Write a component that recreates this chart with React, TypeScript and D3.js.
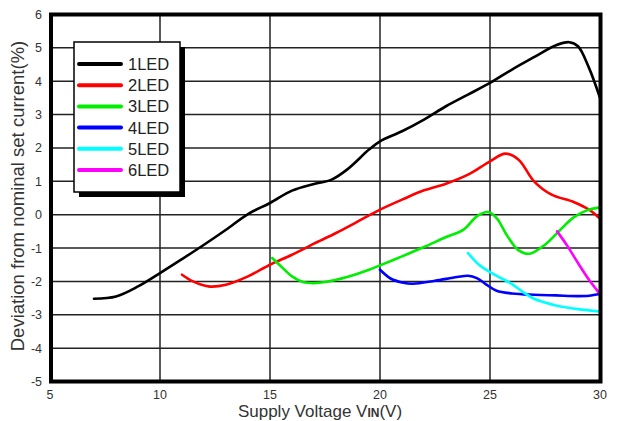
import * as d3 from 'd3';

// Supply voltage (V) vs deviation from nominal set current (%)
const led1: [number, number][] = [
  [7, -2.52], [8, -2.45], [9, -2.15], [10, -1.75], [11, -1.33], [12, -0.9], [13, -0.45],
  [14, 0.02], [15, 0.35], [16, 0.72], [17, 0.92], [17.8, 1.05], [18.5, 1.35], [19.5, 1.95],
  [20, 2.2], [21, 2.5], [22, 2.85], [23, 3.25], [24, 3.6], [25, 3.95], [26, 4.35],
  [27, 4.72], [28, 5.08], [28.6, 5.17], [29, 5.05], [29.5, 4.4], [30, 3.5],
];
const led2: [number, number][] = [
  [11, -1.8], [11.5, -2.0], [12.2, -2.15], [13, -2.1], [14, -1.85], [15, -1.5], [16, -1.2],
  [17, -0.87], [18, -0.55], [19, -0.2], [20, 0.15], [21, 0.45], [22, 0.73], [23, 0.93],
  [24, 1.2], [25, 1.6], [25.7, 1.83], [26.3, 1.65], [27, 1.0], [27.8, 0.6], [28.8, 0.38],
  [29.5, 0.15], [30, -0.12],
];
const led3: [number, number][] = [
  [15.1, -1.3], [15.5, -1.55], [16, -1.85], [16.5, -2.02], [17, -2.05], [17.5, -2.02],
  [18.5, -1.87], [19.5, -1.65], [20, -1.52], [21, -1.25], [22, -0.97], [23, -0.67],
  [23.8, -0.45], [24.4, -0.05], [24.9, 0.08], [25.3, -0.1], [25.8, -0.65], [26.3, -1.07],
  [26.8, -1.17], [27.5, -0.9], [28.2, -0.45], [28.8, -0.08], [29.4, 0.13], [30, 0.22],
];
const led4: [number, number][] = [
  [20, -1.65], [20.5, -1.92], [21, -2.03], [21.5, -2.07], [22.5, -1.98], [23.5, -1.87],
  [24, -1.83], [24.4, -1.9], [24.8, -2.08], [25.3, -2.28], [26, -2.36], [27, -2.4],
  [28, -2.42], [29, -2.44], [29.5, -2.43], [30, -2.38],
];
const led5: [number, number][] = [
  [24, -1.15], [24.5, -1.5], [25, -1.72], [25.5, -1.9], [26, -2.08], [26.5, -2.32],
  [27, -2.52], [27.5, -2.63], [28, -2.72], [29, -2.83], [30, -2.9],
];
const led6: [number, number][] = [
  [28.05, -0.5], [28.5, -0.92], [29, -1.45], [29.5, -1.95], [30, -2.38],
];

const seriesNames = ['1LED', '2LED', '3LED', '4LED', '5LED', '6LED'];
const seriesData = [led1, led2, led3, led4, led5, led6];
const seriesColors = ['#000000', '#ff0000', '#00ee00', '#0000ff', '#00ffff', '#ff00ff'];

const xTicks = [5, 10, 15, 20, 25, 30];
const yTicks = [-5, -4, -3, -2, -1, 0, 1, 2, 3, 4, 5, 6];

const W = 624;
const H = 421;

export default function App() {
  const x = d3.scaleLinear().domain([5, 30]).range([50, 600]);
  const y = d3.scaleLinear().domain([-5, 6]).range([381.5, 14.5]);

  const line = d3.line<[number, number]>()
    .x(d => x(d[0]))
    .y(d => y(d[1]))
    .curve(d3.curveCatmullRom.alpha(0.5));

  const font = 'Arial, "Liberation Sans", sans-serif';

  return (
    <svg
      width={W}
      height={H}
      style={{ position: 'absolute', left: 0, top: 0, background: '#fff' }}
      fontFamily={font}
    >
      {/* grid */}
      {xTicks.map(t => (
        <line key={'gx' + t} x1={x(t)} x2={x(t)} y1={y(6)} y2={y(-5)} stroke="#222" strokeWidth={1.5} />
      ))}
      {yTicks.map(t => (
        <line key={'gy' + t} x1={x(5)} x2={x(30)} y1={y(t)} y2={y(t)} stroke="#222" strokeWidth={1.5} />
      ))}

      {/* curves */}
      {seriesData.map((d, i) => (
        <path key={seriesNames[i]} d={line(d) ?? ''} fill="none" stroke={seriesColors[i]}
          strokeWidth={2.6} strokeLinejoin="round" strokeLinecap="round" />
      ))}

      {/* frame */}
      <rect x={x(5) + 1} y={y(6)} width={x(30) - x(5) - 0.5} height={y(-5) - y(6)}
        fill="none" stroke="#000" strokeWidth={4} />

      {/* tick labels */}
      {yTicks.map(t => (
        <text key={'ty' + t} x={42} y={y(t)} dy="0.36em" textAnchor="end" fontSize={12.5} fill="#333">
          {t}
        </text>
      ))}
      {xTicks.map(t => (
        <text key={'tx' + t} x={x(t)} y={399} textAnchor="middle" fontSize={12.5} fill="#333">
          {t}
        </text>
      ))}

      {/* axis titles */}
      <text x={320} y={417} textAnchor="middle" fontSize={17} fill="#333">
        Supply Voltage V<tspan fontSize={12} fontWeight="bold">IN</tspan>(V)
      </text>
      <text transform="translate(24,196) rotate(-90)" textAnchor="middle"
        fontSize={18.5} fill="#333">
        Deviation from nominal set current(%)
      </text>

      {/* legend */}
      <rect x={79} y={47} width={106} height={150} fill="#000" />
      <rect x={74} y={42} width={106} height={150} fill="#fff" stroke="#000" strokeWidth={1.5} />
      {seriesNames.map((n, i) => {
        const ly = 64 + i * 21.2;
        return (
          <g key={'lg' + n}>
            <line x1={79} x2={121} y1={ly} y2={ly} stroke={seriesColors[i]} strokeWidth={4} strokeLinecap="round" />
            <text x={128} y={ly} dy="0.36em" fontSize={16.5} fill="#222">{n}</text>
          </g>
        );
      })}
    </svg>
  );
}
